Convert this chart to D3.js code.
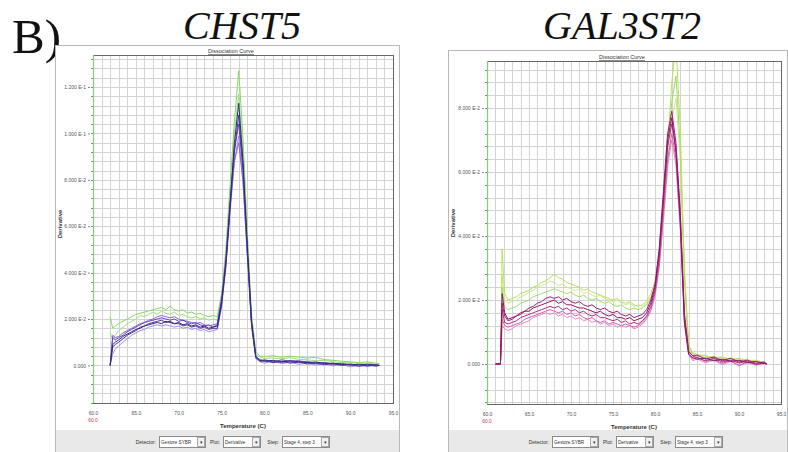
<!doctype html>
<html>
<head>
<meta charset="utf-8">
<title>Dissociation curves</title>
<script src="https://d3js.org/d3.v7.min.js"></script>
<style>
  body { margin: 0; background: #fff; }
  svg { display: block; }
  .tick text { font-family: 'Liberation Sans', sans-serif; font-size: 5px; fill: #555; }
  .small { font-family: 'Liberation Sans', sans-serif; font-size: 5px; fill: #333; }
  .big { font-family: 'Liberation Serif', serif; fill: #111; }
</style>
</head>
<body>
<svg id="chart" width="788" height="452"></svg>
<script>
// temperature (C) and derivative values (in units of 1E-3)

// ---- CHST5 ----
const chstTemps = [62.0, 62.3, 62.6, 63, 63.5, 64, 64.5, 65, 65.5, 66, 66.5, 67, 67.5, 68, 68.5, 69, 69.5, 70, 70.5, 71,
  71.5, 72, 72.5, 73, 73.5, 74, 74.5, 75, 75.5, 76, 76.5, 77, 77.5, 78, 78.5, 79, 79.5, 80, 81, 82,
  83, 84, 85, 86, 87, 88, 89, 90, 91, 92, 93, 93.4];
const chstGreen1 = [21, 16, 17, 18, 19, 20, 21, 22, 22.5, 23, 23.5, 24, 24.5, 25, 24, 25.5, 24, 23.5, 24, 22.5,
  23, 22, 22.5, 21.5, 21, 21.5, 21, 31, 50, 78, 105, 127, 98, 58, 22, 6, 4, 3.8, 4.2, 3.5,
  4, 3.6, 3.2, 3.5, 2.5, 2.2, 1.8, 1.5, 1.2, 1.5, 1, 0.8];
const chstGreen2 = [14, 11, 13, 15, 16.5, 18, 19, 20, 21.5, 21, 22, 23, 22, 23.5, 22.5, 22, 23, 21.5, 22, 21,
  20.5, 21, 20, 20.5, 19.5, 20, 19.5, 29, 47, 74, 100, 117, 92, 55, 20, 5, 3.5, 3, 3.2, 2.8,
  3.4, 2.6, 2.4, 2, 2.2, 1.6, 1.2, 1.4, 0.8, 1, 0.5, 0.5];
const chstPurple1 = [0, 9, 10, 11, 12.5, 13.5, 14.5, 15.5, 16, 17, 17.5, 18, 18.5, 18, 19, 18.5, 18, 18.5, 17.5, 18,
  17, 17.5, 16.5, 17, 16, 16.5, 17, 27, 44, 70, 96, 113, 88, 52, 19, 4, 2, 1.8, 2.2, 1.5,
  2, 1.6, 1.2, 1.5, 0.8, 1, 0.4, 0.6, 0.2, 0.5, 0.2, 0];
const chstPurple2 = [0, 12, 11, 12, 13, 14.5, 15.5, 16.5, 17.5, 18.5, 19, 19.5, 20, 20.5, 20, 19.5, 20, 19, 19.5, 18.5,
  18, 18.5, 17.5, 17, 17.5, 16.5, 17.5, 28, 46, 71, 93, 104, 84, 50, 18, 3.5, 2.5, 2, 1.5, 2.4,
  1.8, 2, 1.4, 1, 1.3, 0.6, 0.9, 0.2, 0.5, -0.3, 0.3, 0];
const chstPurple3 = [0, 5, 7, 8.5, 10, 11.5, 13, 14, 15, 15.5, 16.5, 17, 17.5, 17, 17.5, 17, 16.5, 17, 16, 16.5,
  15.5, 16, 15, 15.5, 14.5, 15, 15.5, 25, 42, 66, 88, 99, 80, 48, 17, 3, 1.5, 1, 1.8, 0.8,
  1.4, 0.5, 1, 0.2, 0.7, -0.2, 0.4, -0.6, 0, -0.4, 0.2, 0];
const chstPurple4 = [0, 8, 9, 10, 11.5, 13, 14, 15, 16.5, 17, 18, 18.5, 19, 19.5, 18.5, 19, 18, 18, 17, 17.5,
  16.5, 17, 16, 16.5, 15.5, 16, 16, 26, 43, 68, 92, 108, 86, 50, 18, 3.5, 1.8, 2.2, 1.2, 1.8,
  1, 1.5, 0.6, 1, 0.3, 0.8, 0, 0.4, -0.4, 0.2, -0.2, 0];
const chstPurple5 = [0, 13, 12, 12.5, 14, 15, 16, 17, 18, 18.5, 19.5, 20, 21, 21.5, 21, 20.5, 21, 20, 19.5, 19,
  18.5, 18, 18.5, 17.5, 17, 17.5, 18, 29, 45, 69, 88, 96, 79, 47, 17, 3, 2, 2.5, 1.6, 1.2,
  2, 1.2, 1.8, 0.8, 1.2, 0.2, 0.6, 0, 0.3, 0, -0.3, 0];

// ---- GAL3ST2 ----
const gal3Temps = [61.0, 61.6, 61.8, 62.1, 62.5, 63, 63.5, 64, 64.5, 65, 65.5, 66, 66.5, 67, 67.5, 68, 68.5, 69, 69.5, 70,
  70.5, 71, 71.5, 72, 72.5, 73, 73.5, 74, 74.5, 75, 75.5, 76, 76.5, 77, 77.5, 78, 78.5, 79, 79.5, 80,
  80.5, 81, 81.5, 82, 82.5, 83, 83.5, 84, 84.5, 85, 86, 87, 88, 89, 90, 91, 92, 93, 93.3];
const gal3Green1 = [0, 0, 36, 22, 20, 20.5, 21, 22, 22.5, 23, 24, 24.5, 25.5, 26, 27, 28, 27, 26.5, 25.5, 25,
  24.5, 24, 23, 23.5, 22.5, 22, 21.5, 21, 20.5, 20, 20.5, 19.5, 19, 19.5, 18.5, 18, 18.5, 19.5, 22, 26,
  34, 48, 68, 88, 100, 74, 30, 6, 3.5, 3, 2.5, 2, 2.2, 1.5, 1.8, 1, 1.2, 0.5, 0.2];
const gal3Green2 = [0, 0, 28, 20, 19, 19.5, 20, 21, 21.5, 22.5, 23, 24, 24.5, 25, 26, 25.5, 24.5, 25, 24, 23.5,
  23, 23.5, 22, 22.5, 21.5, 21, 21.5, 20.5, 20, 19.5, 20, 19, 18.5, 19, 18, 18.5, 18, 19, 21, 24,
  31, 44, 60, 76, 83, 64, 26, 5, 3, 2.5, 2.8, 1.6, 2, 1.2, 1.6, 0.6, 1, 0.3, 0];
const gal3Green3 = [0, 0, 24, 18, 17, 17.5, 18, 19, 19.5, 20, 21, 21.5, 22, 22.5, 23, 23.5, 23, 22.5, 22, 22.5,
  21.5, 21, 21.5, 20.5, 20, 20.5, 19.5, 19, 19.5, 18.5, 18, 18.5, 17.5, 17, 17.5, 17, 17.5, 18.5, 20.5, 24,
  32, 47, 66, 82, 90, 68, 28, 5.5, 3, 2.6, 2, 2.4, 1.4, 1.8, 1, 1.4, 0.5, 0.8, 0];
const gal3Magenta1 = [0, 0, 22, 16, 14, 14.5, 15, 15.5, 16.5, 16.5, 17.5, 18, 18.5, 19, 19.5, 20, 19, 19.5, 18.5, 18.5,
  18, 17.5, 17.5, 17, 16.5, 16, 16.5, 15.5, 15, 15.5, 14.5, 14.5, 14, 14.5, 13.5, 14, 14.5, 16, 19, 24,
  35, 52, 70, 77, 66, 45, 13, 3, 2, 1.5, 1.8, 1, 1.5, 0.8, 1.2, 0.4, 0.8, 0.2, 0];
const gal3Magenta2 = [0, 0, 17, 13, 12.5, 13, 13.5, 14.5, 15, 15.5, 16, 16.5, 17, 17.5, 18, 17.5, 18, 17, 17.5, 16.5,
  17, 16, 16.5, 15.5, 15, 15.5, 14.5, 14.5, 14, 13.5, 14, 13, 13.5, 12.5, 13, 12.5, 13.5, 15, 18, 23,
  33, 50, 68, 75, 67, 47, 15, 4, 2.5, 2, 1, 1.8, 0.6, 1.2, 0.3, 0.9, -0.2, 0.4, 0];
const gal3Magenta3 = [0, 0, 14, 12, 11.5, 12, 12.5, 13, 14, 14.5, 15, 15.5, 16, 16.5, 17, 16.5, 16, 16.5, 15.5, 16,
  15, 15.5, 14.5, 14, 14.5, 13.5, 13, 13.5, 12.5, 13, 12.5, 12, 12.5, 12, 11.5, 12, 13, 14.5, 17, 22,
  31, 47, 64, 72, 64, 44, 14, 3.5, 1.5, 2.2, 0.8, 1.4, 0.2, 1, -0.4, 0.6, 0, 0.2, 0];
const gal3Magenta4 = [0, 0, 19, 15, 13.5, 14, 15, 16, 16.5, 17.5, 18, 19, 19.5, 20.5, 21, 20.5, 21, 20, 20.5, 19.5,
  19, 19.5, 18.5, 18, 18.5, 17.5, 17, 17.5, 16.5, 16, 16.5, 15.5, 15, 15.5, 14.5, 15, 15.5, 17, 20, 25,
  36, 54, 72, 79, 69, 48, 16, 4, 2.5, 2.8, 1.5, 2.2, 1, 1.8, 0.6, 1.2, 0.2, 0.6, 0];
const gal3Magenta5 = [0, 0, 12, 11, 10.5, 11, 12, 12.5, 13, 13.5, 14.5, 15, 15.5, 16, 15.5, 16, 15, 15.5, 14.5, 15,
  14, 14.5, 13.5, 14, 13, 13.5, 12.5, 13, 12, 12.5, 11.5, 12, 11.5, 12, 11, 11.5, 12.5, 14, 16.5, 21,
  30, 45, 62, 70, 62, 42, 13, 3, 1, 1.6, 0.4, 1.2, -0.2, 0.8, -0.6, 0.4, -0.3, 0, 0];

const xTicks = [60, 65, 70, 75, 80, 85, 90, 95];
const chstYTicks = [0, 20, 40, 60, 80, 100, 120];
const gal3YTicks = [0, 20, 40, 60, 80];
const toolItems = ["Detector:", "Plot:", "Step:"];
const toolValues = ["Gestore SYBR", "Derivative", "Stage 4, step 3"];

var svg = d3.select("#chart");

// "1.200 E-1" style labels
function sciLabel(v) {
  if (v === 0) return "0.000";
  var val = v / 1000;
  var e = Math.floor(Math.log10(val) + 1e-9);
  return (val / Math.pow(10, e)).toFixed(3) + " E" + e;
}

function drawPanel(p) {
  var g = svg.append("g");
  var fx = p.frame[0], fy = p.frame[1], fw = p.frame[2], fh = p.frame[3];

  g.append("rect").attr("x", fx + 0.5).attr("y", fy + 0.5).attr("width", fw).attr("height", fh)
    .attr("fill", "#fff").attr("stroke", "#b8b8b8");

  var x = d3.scaleLinear().domain([60, 95]).range([p.left, p.right]);
  var y = d3.scaleLinear().domain(p.yDomain).range([p.bottom, p.top]);
  var snap = v => Math.round(v) + 0.5;

  // grid, 1 C and 4E-3 steps
  var grid = g.append("g").attr("stroke", "#d2d2d2").attr("shape-rendering", "crispEdges");
  grid.selectAll(".v").data(d3.range(61, 95)).join("line")
    .attr("x1", d => snap(x(d))).attr("x2", d => snap(x(d)))
    .attr("y1", p.top).attr("y2", p.bottom);
  var hLines = d3.range(Math.ceil(p.yDomain[0] / 4) * 4, p.yDomain[1], 4);
  grid.selectAll(".h").data(hLines).join("line")
    .attr("x1", p.left).attr("x2", p.right)
    .attr("y1", d => snap(y(d))).attr("y2", d => snap(y(d)));
  // little ticks left of the plot
  grid.selectAll(".t").data(hLines).join("line").attr("stroke", "#888")
    .attr("x1", p.left - 2).attr("x2", p.left)
    .attr("y1", d => snap(y(d))).attr("y2", d => snap(y(d)));

  // curves
  var clipId = "clip" + p.name;
  g.append("clipPath").attr("id", clipId).append("rect")
    .attr("x", p.left).attr("y", p.top).attr("width", p.right - p.left).attr("height", p.bottom - p.top);
  var line = d3.line().x((d, i) => x(p.temps[i])).y(d => y(d));
  g.append("g").attr("clip-path", "url(#" + clipId + ")")
    .selectAll("path").data(p.series).join("path")
    .attr("d", s => line(s.values))
    .attr("fill", "none").attr("stroke", s => s.color).attr("stroke-width", 1);

  // plot border (left side drawn green like the original)
  g.append("rect").attr("x", p.left + 0.5).attr("y", p.top + 0.5)
    .attr("width", p.right - p.left).attr("height", p.bottom - p.top)
    .attr("fill", "none").attr("stroke", "#666");
  g.append("line").attr("x1", p.left + 0.5).attr("x2", p.left + 0.5).attr("y1", p.top).attr("y2", p.bottom)
    .attr("stroke", "#7fce78").attr("stroke-width", 1.2);

  // axes
  var ya = g.append("g").attr("transform", "translate(" + (p.left - 3) + ",0)")
    .call(d3.axisLeft(y).tickValues(p.yTicks).tickFormat(sciLabel).tickSize(2).tickPadding(2));
  ya.select(".domain").remove();
  ya.selectAll(".tick line").attr("stroke", "#888");

  var xa = g.append("g").attr("transform", "translate(0," + (p.bottom + 6) + ")")
    .call(d3.axisBottom(x).tickValues(xTicks).tickFormat(d => d.toFixed(1)).tickSize(0).tickPadding(2));
  xa.select(".domain").remove();
  g.append("text").attr("class", "small").attr("x", x(60)).attr("y", p.bottom + 19)
    .attr("text-anchor", "middle").style("fill", "#e03535").text("60.0");

  g.append("text").attr("class", "small").attr("x", (p.left + p.right) / 2).attr("y", p.bottom + 25)
    .attr("text-anchor", "middle").style("font-weight", "bold").style("font-size", "6px")
    .text("Temperature (C)");
  g.append("text").attr("class", "small")
    .attr("transform", "translate(" + (fx + 7) + "," + p.yLabelY + ") rotate(-90)")
    .attr("text-anchor", "middle").style("font-weight", "bold").style("font-size", "6px")
    .text("Derivative");

  // window title tab
  g.append("text").attr("class", "small").attr("x", p.titleX).attr("y", p.top - 2)
    .attr("text-anchor", "middle").style("font-size", "5.5px").style("text-decoration", "underline")
    .text("Dissociation Curve");

  // bottom toolbar
  var barY = 430;
  g.append("rect").attr("x", fx + 1).attr("y", barY).attr("width", fw - 1).attr("height", 452 - barY)
    .attr("fill", "#e9e9e9");
  var offs = [104, 168, 227], widths = [46, 37, 47];
  toolItems.forEach(function(lbl, i) {
    var bx = fx + offs[i];
    g.append("text").attr("class", "small").attr("x", bx - 3).attr("y", 444)
      .attr("text-anchor", "end").text(lbl);
    g.append("rect").attr("x", bx + 0.5).attr("y", 436.5).attr("width", widths[i]).attr("height", 11)
      .attr("fill", "#fff").attr("stroke", "#8a8a8a");
    g.append("rect").attr("x", bx + widths[i] - 7.5).attr("y", 437.5).attr("width", 7).attr("height", 9)
      .attr("fill", "#f2f2f2").attr("stroke", "#aaa");
    g.append("text").attr("class", "small").attr("x", bx + widths[i] - 4).attr("y", 444)
      .attr("text-anchor", "middle").text("\u25BE");
    g.append("text").attr("class", "small").attr("x", bx + 2).attr("y", 444)
      .style("font-size", "4.6px").text(toolValues[i]);
  });

  // gene name above the window
  svg.append("text").attr("class", "big").attr("x", p.geneX).attr("y", 39)
    .attr("text-anchor", "middle").style("font-style", "italic").style("font-size", "40px")
    .text(p.name);
}

svg.append("text").attr("class", "big").attr("x", 12).attr("y", 53)
  .style("font-size", "49px").text("B)");

drawPanel({
  name: "CHST5", frame: [55, 45, 344, 410],
  left: 93, right: 393, top: 55, bottom: 403, yDomain: [-16.2, 133.8],
  yTicks: chstYTicks, titleX: 231, geneX: 242, yLabelY: 224,
  temps: chstTemps,
  series: [
    {color: "#98e27a", values: chstGreen2},
    {color: "#86d964", values: chstGreen1},
    {color: "#a58ae6", values: chstPurple3},
    {color: "#8a66d8", values: chstPurple5},
    {color: "#6a40c0", values: chstPurple2},
    {color: "#4b3598", values: chstPurple4},
    {color: "#2e2a7a", values: chstPurple1}
  ]
});

drawPanel({
  name: "GAL3ST2", frame: [448, 50, 339, 405],
  left: 487, right: 781, top: 61, bottom: 404, yDomain: [-12.5, 94.7],
  yTicks: gal3YTicks, titleX: 622, geneX: 622, yLabelY: 223,
  temps: gal3Temps,
  series: [
    {color: "#cde98f", values: gal3Green2},
    {color: "#a6d86c", values: gal3Green3},
    {color: "#b9e25a", values: gal3Green1},
    {color: "#e08ac8", values: gal3Magenta5},
    {color: "#d35fb5", values: gal3Magenta3},
    {color: "#b52a8e", values: gal3Magenta2},
    {color: "#9c1f75", values: gal3Magenta4},
    {color: "#8a1763", values: gal3Magenta1}
  ]
});
</script>
</body>
</html>
